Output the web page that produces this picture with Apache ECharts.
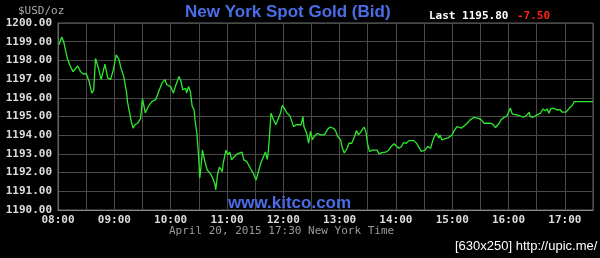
<!DOCTYPE html>
<html>
<head>
<meta charset="utf-8">
<script src="https://cdn.jsdelivr.net/npm/echarts@6/dist/echarts.min.js"></script>
<style>
html,body{margin:0;padding:0;background:#000;}
#chart{width:600px;height:258px;}
</style>
</head>
<body>
<div id="chart"></div>
<script>
// minutes after 08:00 (New York time)
const minutes = [
  1,4,6,10,12,13,16,18,21,24,27,30,33,36,38,40,43,46,50,53,56,59,62,65,67,70,73,74,76,78,80,82,85,88,90,93,97,100,104,107,111,114,116,120,
  123,125,129,131,133,136,137,139,141,143,145,146,148,150,151,152,154,156,159,162,164,167,168,170,172,175,176,179,181,183,185,188,191,193,196,198,201,203,206,208,211,214,216,219,221,223,224,225,227,229,232,234,237,239,241,244,247,
  248,251,254,256,259,261,262,265,267,269,271,273,276,280,282,284,287,290,294,296,298,301,303,305,308,310,313,316,318,320,323,326,328,330,332,335,337,340,342,345,349,352,355,358,360,363,366,368,371,374,376,379,382,384,387,389,391,394,397,
  399,401,403,406,407,409,412,414,416,420,422,425,426,430,432,436,439,443,445,448,451,454,457,461,464,466,470,472,475,478,480,482,484,486,488,491,493,496,499,502,503,506,509,511,514,517,519,521,523,525,528,531,533,535,537,541,543,545,548,550,553,567,570
];
const prices = [
  1198.84,1199.25,1199.0,1198.1,1198.0,1197.7,1197.4,1197.3,1197.7,1197.4,1197.27,1197.3,1196.9,1196.25,1196.4,1198.1,1197.6,1196.97,1197.8,1197.06,1196.97,1197.5,1198.3,1198.04,1197.6,1197.14,1196.3,1195.8,1195.9,1194.74,1194.38,1194.56,1194.65,1194.9,1195.95,1195.2,1195.6,1195.8,1195.9,1196.3,1196.8,1196.97,1196.7,1196.6,
  1196.25,1196.6,1197.14,1196.87,1196.43,1196.5,1196.25,1196.6,1196.34,1195.54,1195.36,1194.8,1194.1,1192.68,1191.7,1192.14,1193.2,1192.68,1192.14,1191.97,1191.8,1191.43,1191.07,1191.9,1192.3,1192.05,1192.5,1193.2,1192.95,1193.1,1192.68,1192.86,1193.0,1192.95,1193.1,1192.68,1192.6,1192.5,1192.14,1191.97,1191.6,1192.14,1192.5,1192.86,1193.1,1192.7,1193.1,1193.75,1195.18,1194.9,1194.56,1194.65,1195.18,1195.6,1195.45,1195.18,1195.04,
  1194.9,1194.46,1194.56,1194.65,1194.56,1195.0,1194.46,1194.1,1193.57,1194.2,1193.76,1193.93,1194.1,1194.02,1194.1,1194.02,1194.3,1194.44,1194.35,1194.2,1193.93,1193.76,1193.3,1193.05,1193.3,1193.57,1193.57,1193.93,1194.25,1194.02,1194.2,1194.44,1194.2,1193.5,1193.13,1193.2,1193.13,1193.2,1193.0,1193.07,1193.09,1193.18,1193.4,1193.54,1193.49,1193.3,1193.4,1193.6,1193.57,1193.71,1193.67,1193.71,1193.57,1193.4,1193.13,1193.04,1193.2,1193.4,1193.3,
  1193.66,1193.93,1194.1,1193.84,1194.02,1193.75,1193.8,1193.7,1193.87,1194.02,1194.23,1194.46,1194.55,1194.38,1194.46,1194.64,1194.82,1194.95,1195.05,1194.9,1194.82,1194.64,1194.64,1194.64,1194.55,1194.4,1194.64,1194.82,1194.95,1195.0,1195.1,1195.45,1195.13,1195.18,1195.1,1195.05,1195.0,1194.96,1195.05,1195.23,1195.0,1194.96,1195.05,1195.13,1195.18,1195.41,1195.3,1195.41,1195.18,1195.41,1195.45,1195.36,1195.45,1195.36,1195.23,1195.23,1195.23,1195.45,1195.6,1195.8,1195.8,1195.8,1195.8
];
const yMin = 1190, yMax = 1200, yStep = 1;
const xMin = 0, xMax = 570, xStep = 30;
const startHour = 8;
const titleText = 'New York Spot Gold (Bid)';
const unitText = '$USD/oz';
const lastLabel = 'Last 1195.80';
const changeLabel = '-7.50';
const siteText = 'www.kitco.com';
const dateText = 'April 20, 2015 17:30 New York Time';
const creditText = '[630x250] http://upic.me/';

const data = minutes.map((m, i) => [m, prices[i]]);
const mono = 'DejaVu Sans Mono';
const chart = echarts.init(document.getElementById('chart'), null, {renderer: 'canvas'});
chart.setOption({
  backgroundColor: '#000',
  animation: false,
  grid: {
    left: 58, right: 7, top: 23, bottom: 48,
    show: true, borderColor: '#666', borderWidth: 1, backgroundColor: '#000',
    outerBoundsMode: 'none'
  },
  xAxis: {
    type: 'value', min: xMin, max: xMax, interval: xStep,
    axisLine: {show: true, lineStyle: {color: '#888', width: 1}},
    axisTick: {show: false},
    splitLine: {show: true, lineStyle: {color: '#4a4a4a', width: 1}},
    axisLabel: {
      color: '#ddd', fontFamily: mono, fontWeight: 'bold', fontSize: 11, margin: 5,
      formatter: v => {
        if (v % 60 !== 0 || v >= xMax) return '';
        const h = startHour + v / 60;
        return (h < 10 ? '0' : '') + h + ':00';
      }
    }
  },
  yAxis: {
    type: 'value', min: yMin, max: yMax, interval: yStep,
    axisLine: {show: true, lineStyle: {color: '#666', width: 1}},
    axisTick: {show: false},
    splitLine: {show: true, lineStyle: {color: '#4a4a4a', width: 1}},
    axisLabel: {
      color: '#ddd', fontFamily: mono, fontWeight: 'bold', fontSize: 11, margin: 6,
      formatter: v => v.toFixed(2)
    }
  },
  series: [{
    type: 'line', data: data, symbol: 'none', silent: true,
    lineStyle: {color: '#2ee82e', width: 1.3}
  }],
  graphic: [
    {type: 'text', left: 18, top: 6, style: {text: unitText, fill: '#aaa', font: '11px "DejaVu Sans Mono"'}},
    {type: 'text', left: 185, top: 4, style: {text: titleText, fill: '#4a6ee8', font: 'bold 17px "Liberation Sans"'}},
    {type: 'text', left: 429, top: 11, style: {text: lastLabel, fill: '#fff', font: 'bold 11px "DejaVu Sans Mono"'}},
    {type: 'text', left: 517, top: 11, style: {text: changeLabel, fill: '#ff2020', font: 'bold 11px "DejaVu Sans Mono"'}},
    {type: 'text', left: 228, top: 195, z: 10, style: {text: siteText, fill: '#4a6ee8', font: 'bold 17px "Liberation Sans"'}},
    {type: 'text', left: 169, top: 226, style: {text: dateText, fill: '#999', font: '11px "DejaVu Sans Mono"'}},
    {type: 'text', left: 455, top: 240, style: {text: creditText, fill: '#fff', font: '13px "Liberation Sans"'}}
  ]
});
</script>
</body>
</html>
